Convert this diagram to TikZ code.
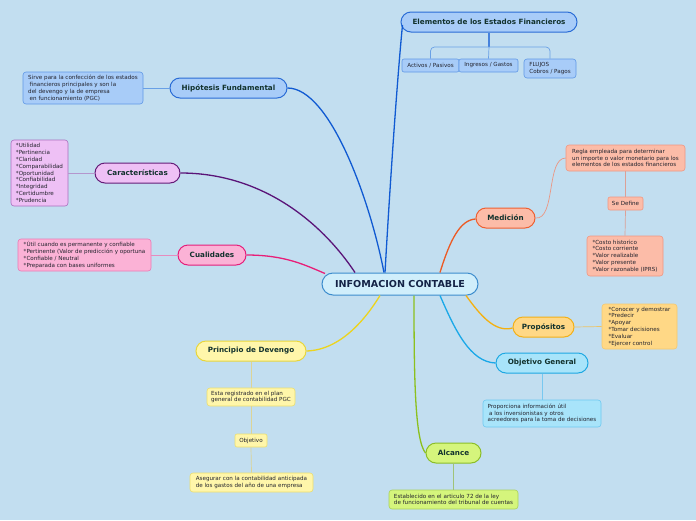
\documentclass[tikz,border=0pt]{standalone}
\usepackage{fontspec}
\setmainfont{DejaVu Sans}
\definecolor{bg}{RGB}{194,222,240}
\definecolor{txt}{RGB}{18,50,45}
\definecolor{ctxt}{RGB}{20,35,70}
\definecolor{leaftxt}{RGB}{35,35,45}
\definecolor{cfill}{RGB}{208,238,251}\definecolor{cdraw}{RGB}{60,140,205}
\definecolor{bfill}{RGB}{168,204,248}\definecolor{bdraw}{RGB}{42,108,214}
\definecolor{bleaf}{RGB}{95,152,230}\definecolor{bstem}{RGB}{70,130,220}\definecolor{bthin}{RGB}{105,160,230}
\definecolor{bline}{RGB}{16,90,210}
\definecolor{pfill}{RGB}{238,192,245}\definecolor{pdraw}{RGB}{100,28,120}
\definecolor{pleaf}{RGB}{170,110,190}\definecolor{pthin}{RGB}{180,150,205}\definecolor{pline}{RGB}{90,20,120}
\definecolor{kfill}{RGB}{251,178,214}\definecolor{kdraw}{RGB}{228,30,122}
\definecolor{kleaf}{RGB}{235,120,180}\definecolor{kthin}{RGB}{230,140,190}\definecolor{kline}{RGB}{232,30,120}
\definecolor{yfill}{RGB}{255,246,170}\definecolor{ydraw}{RGB}{232,214,60}
\definecolor{yleaf}{RGB}{236,222,110}\definecolor{ythin}{RGB}{220,212,150}\definecolor{yline}{RGB}{236,212,30}
\definecolor{gfill}{RGB}{213,245,124}\definecolor{gdraw}{RGB}{140,190,40}
\definecolor{gleaf}{RGB}{170,210,90}\definecolor{gthin}{RGB}{160,195,120}\definecolor{gline}{RGB}{140,192,30}
\definecolor{tfill}{RGB}{168,228,250}\definecolor{tdraw}{RGB}{30,168,226}
\definecolor{tleaf}{RGB}{110,200,240}\definecolor{tthin}{RGB}{120,200,240}\definecolor{tline}{RGB}{26,168,232}
\definecolor{ofill}{RGB}{255,216,134}\definecolor{odraw}{RGB}{242,176,24}
\definecolor{oleaf}{RGB}{245,200,110}\definecolor{othin}{RGB}{236,196,104}\definecolor{oline}{RGB}{244,176,16}
\definecolor{rfill}{RGB}{252,188,168}\definecolor{rdraw}{RGB}{238,96,50}
\definecolor{rleaf}{RGB}{240,150,130}\definecolor{rthin}{RGB}{235,150,130}\definecolor{rthinb}{RGB}{220,160,150}\definecolor{rline}{RGB}{236,90,36}
\tikzset{
  topic/.style={draw, line width=1pt, rounded corners=9pt, inner sep=0pt,
    font=\bfseries\fontsize{7.2}{8}\selectfont, text=txt, align=center},
  leaf/.style={draw, line width=0.6pt, rounded corners=3pt, inner sep=0pt,
    font=\fontsize{5.6}{6.8}\selectfont, text=leaftxt, align=left},
  conn/.style={line width=1.3pt},
  thinconn/.style={line width=0.7pt},
}
\begin{document}
\begin{tikzpicture}[x=1pt,y=-1pt]
\useasboundingbox (0,0) rectangle (696,520);
\fill[bg] (0,0) rectangle (696,520);

% central
\node[topic, fill=cfill, draw=cdraw, minimum width=156pt, minimum height=22pt,
  rounded corners=11pt, font=\bfseries\fontsize{9.6}{11}\selectfont, text=ctxt] (c) at (400,284) {INFOMACION CONTABLE};

% Elementos
\node[topic, fill=bfill, draw=bdraw, minimum width=176pt, minimum height=20pt, rounded corners=10pt] (e) at (489,22) {Elementos de los Estados Financieros};
\node[leaf, fill=bfill, draw=bleaf, minimum width=57pt, minimum height=13pt, rounded corners=2pt] (e1) at (430.5,65.5) {Activos / Pasivos};
\node[leaf, fill=bfill, draw=bleaf, minimum width=59pt, minimum height=13pt, rounded corners=2pt] (e2) at (488.5,65.5) {Ingresos / Gastos};
\node[leaf, fill=bfill, draw=bleaf, minimum width=52pt, minimum height=19pt] (e3) at (550,68.5) {FLUJOS\\Cobros / Pagos};
\coordinate (ej) at (489,47);
\draw[line width=1.6pt, color=bstem] (e.south) -- (ej);
\draw[thinconn, color=bthin, rounded corners=4pt] (e1.north) |- (ej) -| (e3.north);
\draw[thinconn, color=bthin] (ej) -- (e2.north);

% Hipotesis
\node[topic, fill=bfill, draw=bdraw, minimum width=117pt, minimum height=20pt, rounded corners=10pt] (h) at (228.5,88) {Hipótesis Fundamental};
\node[leaf, fill=bfill, draw=bleaf, minimum width=120pt, minimum height=32pt] (hl) at (83,88) {Sirve para la confección de los estados\\\hspace{1.5pt}financieros principales y son la\\del devengo y la de empresa\\\hspace{1.5pt}en funcionamiento (PGC)};
\draw[thinconn, color=bthin] (hl.east) -- (h.west);

% Caracteristicas
\node[topic, fill=pfill, draw=pdraw, minimum width=85pt, minimum height=20pt, rounded corners=10pt] (k) at (137.5,173) {Características};
\node[leaf, fill=pfill, draw=pleaf, minimum width=57pt, minimum height=66pt] (kl) at (39.5,173) {*Utilidad\\*Pertinencia\\*Claridad\\*Comparabilidad\\*Oportunidad\\*Confiabilidad\\*Integridad\\*Certidumbre\\*Prudencia};
\draw[thinconn, color=pthin] (kl.east) -- (k.west);

% Cualidades
\node[topic, fill=kfill, draw=kdraw, minimum width=68pt, minimum height=20pt, rounded corners=10pt] (q) at (212,255) {Cualidades};
\node[leaf, fill=kfill, draw=kleaf, minimum width=133pt, minimum height=32pt] (ql) at (84.5,255) {*Útil cuando es permanente y confiable\\*Pertinente (Valor de predicción y oportuna\\*Confiable / Neutral\\*Preparada con bases uniformes};
\draw[thinconn, color=kthin] (ql.east) -- (q.west);

% Principio de Devengo
\node[topic, fill=yfill, draw=ydraw, minimum width=110pt, minimum height=20pt, rounded corners=10pt] (d) at (251,351) {Principio de Devengo};
\node[leaf, fill=yfill, draw=yleaf, minimum width=88pt, minimum height=18pt] (d1) at (251,397) {Esta registrado en el plan\\general de contabilidad PGC};
\node[leaf, fill=yfill, draw=yleaf, minimum width=32pt, minimum height=13pt, rounded corners=2pt, align=center] (d2) at (251,440.5) {Objetivo};
\node[leaf, fill=yfill, draw=yleaf, minimum width=123pt, minimum height=19pt] (d3) at (251.5,482.5) {Asegurar con la contabilidad anticipada\\de los gastos del año de una empresa};
\draw[thinconn, color=ythin] (d.south) -- (d1.north);
\draw[thinconn, color=ythin] (d1.south) -- (d2.north);
\draw[thinconn, color=ythin] (d2.south) -- (d3.north);

% Alcance
\node[topic, fill=gfill, draw=gdraw, minimum width=55pt, minimum height=20pt, rounded corners=10pt] (a) at (453.5,453) {Alcance};
\node[leaf, fill=gfill, draw=gleaf, minimum width=129pt, minimum height=19pt] (al) at (453.5,499.5) {Establecido en el articulo 72 de la ley\\de funcionamiento del tribunal de cuentas};
\draw[thinconn, color=gthin] (a.south) -- (al.north);

% Objetivo General
\node[topic, fill=tfill, draw=tdraw, minimum width=92pt, minimum height=20pt, rounded corners=10pt] (og) at (542,363) {Objetivo General};
\node[leaf, fill=tfill, draw=tleaf, minimum width=118pt, minimum height=27pt] (ogl) at (542,413.5) {Proporciona información útil\\\hspace{1.5pt}a los inversionistas y otros\\acreedores para la toma de decisiones};
\draw[thinconn, color=tthin] (og.south) -- (ogl.north);

% Propositos
\node[topic, fill=ofill, draw=odraw, minimum width=61pt, minimum height=20pt, rounded corners=10pt] (p) at (543.5,327) {Propósitos};
\node[leaf, fill=ofill, draw=oleaf, minimum width=75pt, minimum height=45pt] (pl) at (639.5,326.5) {*Conocer y demostrar\\*Predecir\\*Apoyar\\*Tomar decisiones\\*Evaluar\\*Ejercer control};
\draw[thinconn, color=othin] (p.east) -- (pl.west);

% Medicion
\node[topic, fill=rfill, draw=rdraw, minimum width=59pt, minimum height=20pt, rounded corners=10pt] (m) at (505.5,218) {Medición};
\node[leaf, fill=rfill, draw=rleaf, minimum width=119pt, minimum height=26pt] (ml) at (625.5,158) {Regla empleada para determinar\\un importe o valor monetario para los\\elementos de los estados financieros};
\node[leaf, fill=rfill, draw=rleaf, minimum width=35pt, minimum height=13pt, rounded corners=2pt, align=center] (ms) at (625.5,203.5) {Se Define};
\node[leaf, fill=rfill, draw=rleaf, minimum width=76pt, minimum height=40pt] (mll) at (625,256) {*Costo historico\\*Costo corriente\\*Valor realizable\\*Valor presente\\*Valor razonable (IPRS)};
\draw[thinconn, color=rthin] (m.east) .. controls (556,220) and (546,158) .. (ml.west);
\draw[thinconn, color=rthinb] (ml.south) -- (ms.north);
\draw[thinconn, color=rthinb] (ms.south) -- (mll.north);

% main connectors
\draw[conn, color=bline] ([xshift=-15pt]c.north) .. controls (392,150) and (399,60) .. ([xshift=2pt,yshift=-3pt]e.west);
\draw[conn, color=bline] ([xshift=-16pt]c.north) .. controls (370,200) and (330,88) .. (h.east);
\draw[conn, color=pline] ([xshift=-45pt]c.north) .. controls (320,220) and (260,173) .. (k.east);
\draw[conn, color=kline] ([xshift=-75pt,yshift=-1pt]c.north) .. controls (305,265) and (285,255) .. (q.east);
\draw[conn, color=yline] ([xshift=-20pt]c.south) .. controls (365,320) and (340,350) .. (d.east);
\draw[conn, color=gline] ([xshift=14pt]c.south) .. controls (414,380) and (415,440) .. (a.west);
\draw[conn, color=tline] ([xshift=40pt]c.south) .. controls (455,330) and (470,362) .. (og.west);
\draw[conn, color=oline] ([xshift=66pt]c.south) .. controls (480,315) and (495,333) .. ([yshift=-1pt]p.west);
\draw[conn, color=rline] ([xshift=40pt]c.north) .. controls (450,240) and (460,220) .. ([yshift=-1pt]m.west);
\end{tikzpicture}
\end{document}
